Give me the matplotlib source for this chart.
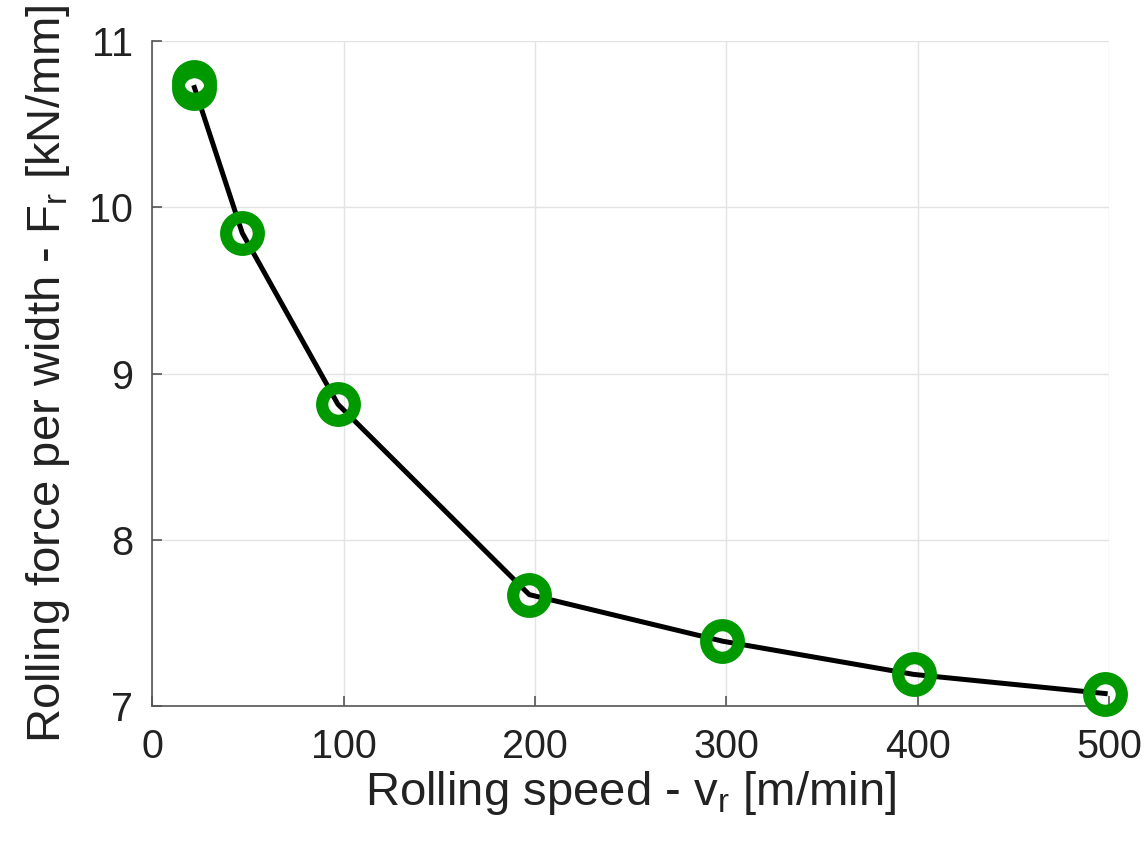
import matplotlib.pyplot as plt

plt.rcParams['font.family'] = ['Liberation Sans', 'DejaVu Sans']
plt.rcParams['mathtext.fontset'] = 'custom'
plt.rcParams['mathtext.rm'] = 'Liberation Sans'

# rolling speed [m/min] and rolling force per width [kN/mm]
speed = [22, 22, 47, 97, 197, 298, 398, 498]
force = [10.755, 10.72, 9.845, 8.815, 7.67, 7.39, 7.19, 7.075]

xticks = [0, 100, 200, 300, 400, 500]
yticks = [7, 8, 9, 10, 11]

fig = plt.figure(figsize=(11.48, 8.44), dpi=100)
ax = fig.add_axes([0.1327, 0.1635, 0.8333, 0.7879])

# curve first, then the hollow green markers on top
ax.plot(speed[1:], force[1:], color='black', linewidth=3.6, zorder=3)
ax.plot(speed, force, linestyle='none', marker='o', markersize=23.5,
        markerfacecolor='none', markeredgecolor='#009900',
        markeredgewidth=8.8, zorder=4, clip_on=False)

ax.set_xlim(0, 500)
ax.set_ylim(7, 11)
ax.set_xticks(xticks)
ax.set_yticks(yticks)
ax.grid(True, color='#e3e3e3', linewidth=1)
ax.set_axisbelow(True)

for side in ['top', 'right']:
    ax.spines[side].set_visible(False)
for side in ['left', 'bottom']:
    ax.spines[side].set_color('#555555')
    ax.spines[side].set_linewidth(1.2)

ax.tick_params(direction='in', length=7, width=1.2, color='#555555',
               labelsize=28.5, labelcolor='#222222')
ax.tick_params(axis='x', pad=16)
ax.tick_params(axis='y', pad=14)

ax.set_xlabel(r'Rolling speed - $\mathregular{v_r}$ [m/min]', fontsize=34,
              color='#222222', labelpad=2)
ax.set_ylabel(r'Rolling force per width - $\mathregular{F_r}$ [kN/mm]', fontsize=34,
              color='#222222', labelpad=12)

fig.savefig('out.png', dpi=100)
